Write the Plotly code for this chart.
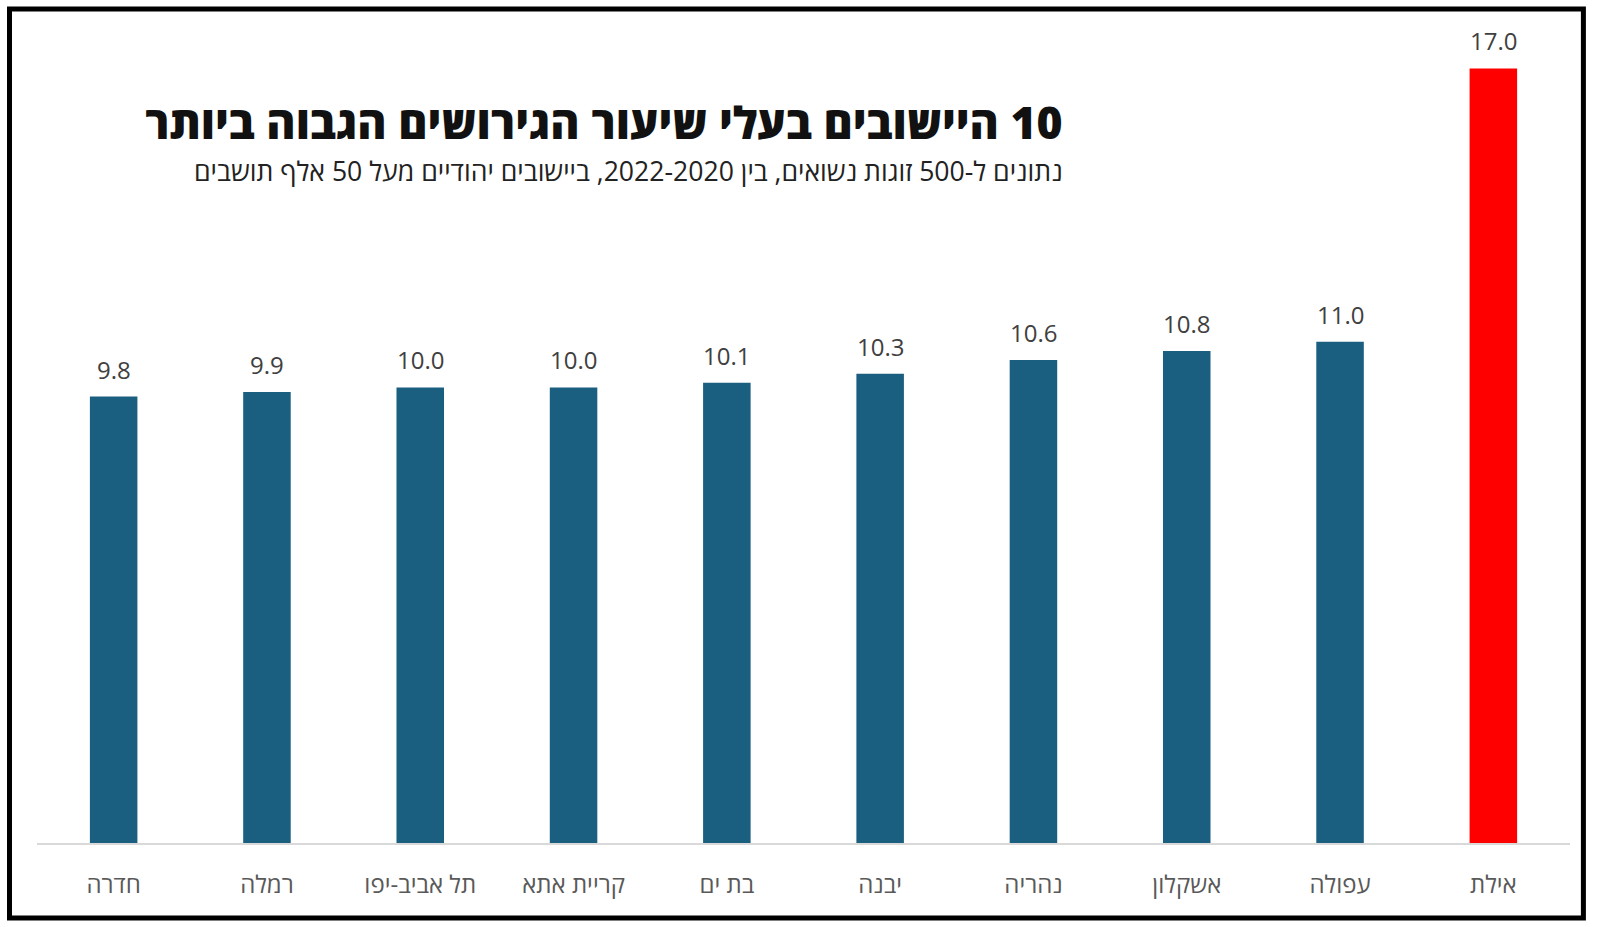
import plotly.graph_objects as go

cities = ["חדרה", "רמלה", "תל אביב-יפו", "קריית אתא", "בת ים", "יבנה", "נהריה", "אשקלון", "עפולה", "אילת"]
rates = [9.8, 9.9, 10.0, 10.0, 10.1, 10.3, 10.6, 10.8, 11.0, 17.0]
highlight = "אילת"

title_text = "10 היישובים בעלי שיעור הגירושים הגבוה ביותר"
subtitle_text = "נתונים ל-500 זוגות נשואים, בין 2020\u200F-2022, ביישובים יהודיים מעל 50 אלף תושבים"

BLUE = "#1a5e80"
RED = "#ff0000"
colors = [RED if c == highlight else BLUE for c in cities]

W, H = 1600, 927
ml, mr, mt, mb = 36.5, 30.4, 10, 84
pw = W - ml - mr
ph = H - mt - mb
px_per_unit = 45.56
ymax = ph / px_per_unit

FONT = "Open Sans"

fig = go.Figure()
fig.add_trace(go.Bar(
    x=cities, y=rates, marker=dict(color=colors, line=dict(width=0)),
    width=0.31, hoverinfo="x+y",
))

for c, v in zip(cities, rates):
    fig.add_annotation(
        x=c, y=v, xref="x", yref="y", text=f"{v:.1f}", showarrow=False,
        yanchor="bottom", yshift=9,
        font=dict(family=FONT, size=24, color="#404040"),
    )

def px_x(p):
    return (p - ml) / pw

def px_y(p):
    return (H - mb - p) / ph

fig.add_annotation(
    xref="paper", yref="paper", x=px_x(1065), y=px_y(122),
    xanchor="right", yanchor="middle", showarrow=False,
    text="\u202B" + title_text + "\u202C",
    font=dict(family=FONT, size=44.5, color="#111111", weight=800),
)
fig.add_annotation(
    xref="paper", yref="paper", x=px_x(1065), y=px_y(171),
    xanchor="right", yanchor="middle", showarrow=False,
    text="\u202B" + subtitle_text + "\u202C",
    font=dict(family=FONT, size=26.6, color="#222222"),
)

fig.add_shape(
    type="rect", xref="paper", yref="paper",
    x0=px_x(9), x1=px_x(1583), y0=px_y(918), y1=px_y(9),
    line=dict(color="black", width=5), layer="above",
)

fig.update_layout(
    width=W, height=H,
    margin=dict(l=ml, r=mr, t=mt, b=mb, pad=0),
    paper_bgcolor="white", plot_bgcolor="white",
    showlegend=False,
    bargap=0.69,
    xaxis=dict(
        showline=True, linecolor="#d9d9d9", linewidth=1.5,
        showgrid=False, zeroline=False, ticks="", ticklabelstandoff=19,
        tickfont=dict(family=FONT, size=24, color="#595959"),
    ),
    yaxis=dict(range=[0, ymax], visible=False),
)

fig.write_html(
    "out.html",
    config={"displayModeBar": False},
    post_script="document.body.style.margin='0';document.body.style.overflow='hidden';",
)
